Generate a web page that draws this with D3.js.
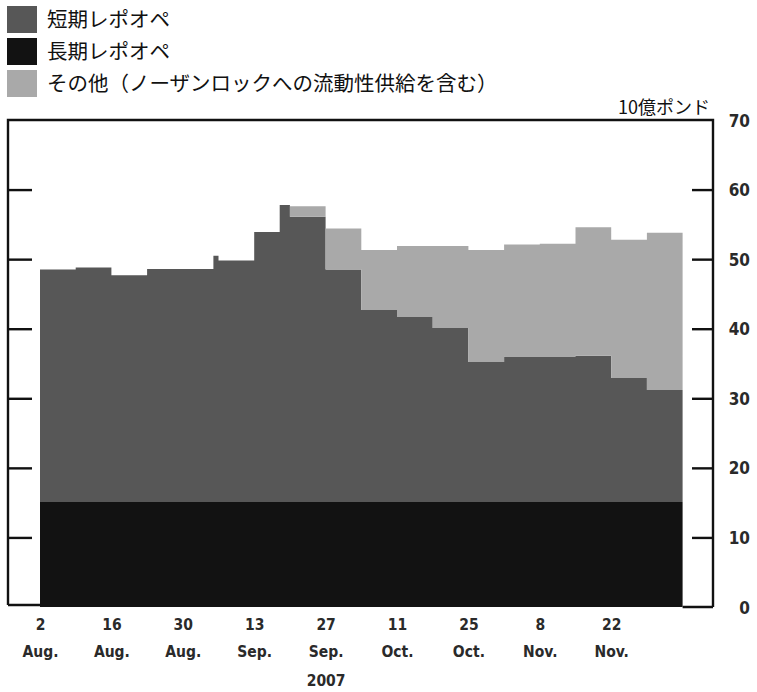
<!DOCTYPE html>
<html><head><meta charset="utf-8">
<script src="https://cdn.jsdelivr.net/npm/d3@7"></script>
<style>
html,body{margin:0;padding:0;background:#fff;}
svg{display:block;}
</style></head>
<body>
<svg id="chart" width="757" height="692"></svg>
<script>
// ---- data (10億ポンド) ----
const dates = ["2007-08-02","2007-08-09","2007-08-16","2007-08-23","2007-09-05","2007-09-06","2007-09-13","2007-09-18","2007-09-20","2007-09-27","2007-10-04","2007-10-11","2007-10-18","2007-10-25","2007-11-01","2007-11-08","2007-11-15","2007-11-22","2007-11-29","2007-12-06"];
const longTerm  = [15.1,15.1,15.1,15.1,15.1,15.1,15.1,15.1,15.1,15.1,15.1,15.1,15.1,15.1,15.1,15.1,15.1,15.1,15.1,15.1];
const shortTerm = [33.4,33.7,32.6,33.5,35.4,34.7,38.8,42.7,41.0,33.4,27.6,26.6,25.0,20.1,20.9,20.9,21.0,17.8,16.1,16.1];
const other     = [0,0,0,0,0,0,0,0,1.5,5.9,8.6,10.2,11.8,16.1,16.1,16.2,18.5,19.9,22.6,22.6];
const tickDates = ["2007-08-02","2007-08-16","2007-08-30","2007-09-13","2007-09-27","2007-10-11","2007-10-25","2007-11-08","2007-11-22"];
const tickDays  = ["2","16","30","13","27","11","25","8","22"];
const tickMonths= ["Aug.","Aug.","Aug.","Sep.","Sep.","Oct.","Oct.","Nov.","Nov."];
const yearLabel = "2007";
const yTicks = [0,10,20,30,40,50,60,70];
const legendLabels = ["短期レポオペ","長期レポオペ","その他（ノーザンロックへの流動性供給を含む）"];
const unitLabel = "10億ポンド";

const parse = d3.timeParse("%Y-%m-%d");
const rows = dates.map((d,i)=>({date:parse(d), long:longTerm[i], short:shortTerm[i], other:other[i]}));

const colors = {long:"#121212", short:"#575757", other:"#a9a9a9"};

const svg = d3.select("#chart");
const X0 = 40, X1 = 682.6, Y0 = 607, Y1 = 120;
const x = d3.scaleTime().domain([parse("2007-08-02"), parse("2007-12-06")]).range([X0, X1]);
const y = d3.scaleLinear().domain([0,70]).range([Y0, Y1]);

// stacked step areas
const stack = d3.stack().keys(["long","short","other"]);
const series = stack(rows);
const area = d3.area().curve(d3.curveStepAfter)
  .x(d=>x(d.data.date)).y0(d=>y(d[0])).y1(d=>y(d[1]));
svg.append("g").selectAll("path").data(series).join("path")
  .attr("d", area).attr("fill", d=>colors[d.key]);

// frame
const frameX0 = 8, frameX1 = 713;
svg.append("path")
  .attr("d", `M${frameX0},${Y0-2}V${Y1}H${frameX1}V${Y0}M${frameX0},${Y0-2}H${X0}M${X1},${Y0}H${frameX1}`)
  .attr("fill","none").attr("stroke","#111").attr("stroke-width",2.4);

// left ticks (no labels)
const leftAxis = d3.axisRight(y).tickValues([10,20,30,40,50,60]).tickSize(24).tickSizeOuter(0).tickFormat("");
const gl = svg.append("g").attr("transform",`translate(${frameX0},0)`).call(leftAxis);
gl.select(".domain").remove();
gl.selectAll(".tick line").attr("stroke","#111").attr("stroke-width",2.4);

// right axis
const rightAxis = d3.axisRight(y).tickValues(yTicks).tickSize(-21).tickSizeOuter(0).tickFormat(d3.format("d"));
const gr = svg.append("g").attr("transform",`translate(${frameX1},0)`).call(rightAxis);
gr.select(".domain").remove();
gr.selectAll(".tick line").attr("stroke","#111").attr("stroke-width",2.4)
  .attr("display", d=> (d===0||d===70) ? "none" : null);
gr.selectAll(".tick text").attr("x",37).attr("text-anchor","end")
  .attr("font-family","'DejaVu Sans Condensed','DejaVu Sans',sans-serif").attr("font-weight","bold")
  .attr("font-size",17).attr("fill","#2a2a2a").attr("dy","0.36em");

// x labels
const xAxis = d3.axisBottom(x).tickValues(tickDates.map(parse)).tickSize(0).tickFormat("");
const gx = svg.append("g").attr("transform",`translate(0,${Y0})`).call(xAxis);
gx.select(".domain").remove();
gx.selectAll(".tick").each(function(d,i){
  const t = d3.select(this).append("text").attr("text-anchor","middle")
    .attr("font-family","'DejaVu Sans Condensed','DejaVu Sans',sans-serif").attr("font-weight","bold")
    .attr("font-size",15.5).attr("fill","#2a2a2a");
  t.append("tspan").attr("x",0).attr("y",23).text(tickDays[i]);
  t.append("tspan").attr("x",0).attr("y",50).text(tickMonths[i]);
  if (i===4) t.append("tspan").attr("x",0).attr("y",79).text(yearLabel);
});

// unit label
svg.append("text").attr("x",710).attr("y",114).attr("text-anchor","end")
  .attr("font-family","'Noto Sans CJK JP',sans-serif").attr("font-size",18).attr("fill","#111")
  .text(unitLabel);

// legend
const legendKeys = ["short","long","other"];
const lg = svg.append("g");
legendKeys.forEach((k,i)=>{
  const yy = 6 + i*32;
  lg.append("rect").attr("x",7).attr("y",yy).attr("width",30).attr("height",27).attr("fill",colors[k]);
  lg.append("text").attr("x",47).attr("y",yy+14).attr("dy","0.36em")
    .attr("font-family","'Noto Sans CJK JP',sans-serif").attr("font-size",20.5).attr("fill","#111")
    .text(legendLabels[i]);
});
</script>
</body></html>
